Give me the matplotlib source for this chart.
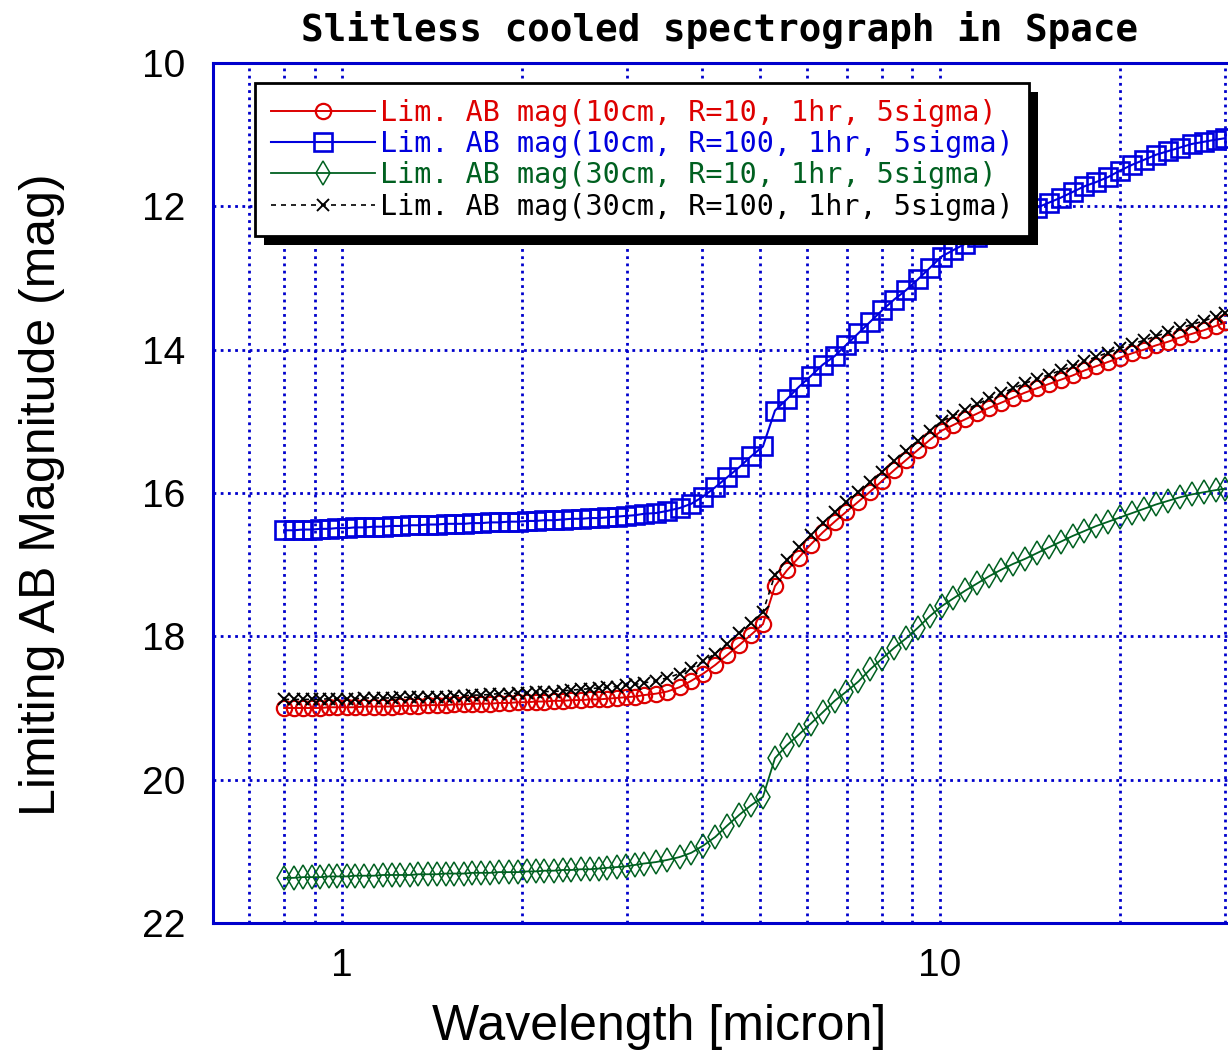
import matplotlib
matplotlib.use("Agg")
import matplotlib.pyplot as plt
from matplotlib.ticker import FixedLocator, FixedFormatter, LogLocator, NullFormatter
from matplotlib.patches import Rectangle
from matplotlib.transforms import IdentityTransform

# ---------------- data ----------------
wavelength = [
    0.80, 0.83, 0.86, 0.89, 0.92, 0.95, 0.98, 1.02, 1.05, 1.09, 1.13, 1.17, 1.21, 1.25,
    1.30, 1.34, 1.39, 1.44, 1.49, 1.54, 1.60, 1.65, 1.71, 1.77, 1.83, 1.90, 1.97, 2.04,
    2.11, 2.18, 2.26, 2.34, 2.42, 2.51, 2.60, 2.69, 2.78, 2.88, 2.98, 3.09, 3.20,
    3.35, 3.50, 3.67, 3.84, 4.02, 4.21, 4.41, 4.62, 4.83, 5.06, 5.30, 5.55, 5.81, 6.08,
    6.37, 6.67, 6.98, 7.31, 7.65, 8.01, 8.39, 8.78, 9.19, 9.62, 10.07, 10.54, 11.04,
    11.56, 12.10, 12.67, 13.26, 13.88, 14.53, 15.21, 15.93, 16.68, 17.46, 18.28, 19.14,
    20.04, 20.98, 21.97, 23.00, 24.08, 25.21, 26.39, 27.63, 28.93, 30.00]

mag_10cm_R10 = [
    19.00, 19.00, 19.00, 19.00, 19.00, 18.99, 18.99, 18.99, 18.99, 18.98, 18.98, 18.98, 18.98, 18.97,
    18.97, 18.97, 18.96, 18.96, 18.96, 18.95, 18.95, 18.94, 18.94, 18.94, 18.93, 18.93, 18.92, 18.92,
    18.91, 18.91, 18.90, 18.90, 18.89, 18.89, 18.88, 18.88, 18.87, 18.86, 18.85, 18.84, 18.82,
    18.80, 18.77, 18.71, 18.62, 18.52, 18.40, 18.26, 18.12, 17.98, 17.83, 17.30, 17.08, 16.90, 16.72,
    16.55, 16.40, 16.26, 16.12, 15.98, 15.83, 15.68, 15.54, 15.40, 15.26, 15.13, 15.05, 14.97,
    14.89, 14.81, 14.74, 14.67, 14.60, 14.54, 14.48, 14.42, 14.36, 14.29, 14.23, 14.17,
    14.11, 14.05, 14.00, 13.94, 13.89, 13.83, 13.78, 13.73, 13.67, 13.62]

mag_10cm_R100 = [
    16.52, 16.52, 16.51, 16.51, 16.50, 16.50, 16.49, 16.49, 16.48, 16.48, 16.47, 16.47, 16.46, 16.46,
    16.45, 16.45, 16.44, 16.44, 16.43, 16.43, 16.43, 16.42, 16.42, 16.41, 16.41, 16.40, 16.40, 16.39,
    16.39, 16.38, 16.38, 16.37, 16.36, 16.36, 16.35, 16.35, 16.34, 16.33, 16.32, 16.31, 16.29,
    16.28, 16.25, 16.21, 16.15, 16.05, 15.92, 15.78, 15.64, 15.49, 15.35, 14.85, 14.69, 14.52, 14.37,
    14.21, 14.09, 13.93, 13.77, 13.61, 13.45, 13.30, 13.17, 13.02, 12.86, 12.70, 12.61, 12.52,
    12.43, 12.35, 12.26, 12.18, 12.10, 12.02, 11.95, 11.88, 11.80, 11.72, 11.66, 11.59,
    11.50, 11.42, 11.35, 11.28, 11.23, 11.18, 11.13, 11.10, 11.07, 11.05]

mag_30cm_R10 = [
    21.37, 21.37, 21.36, 21.36, 21.36, 21.35, 21.35, 21.35, 21.34, 21.34, 21.34, 21.33, 21.33, 21.33,
    21.33, 21.32, 21.32, 21.32, 21.31, 21.31, 21.31, 21.30, 21.30, 21.30, 21.29, 21.29, 21.29, 21.28,
    21.28, 21.27, 21.27, 21.26, 21.26, 21.25, 21.25, 21.24, 21.23, 21.22, 21.21, 21.19, 21.17,
    21.15, 21.12, 21.08, 21.02, 20.92, 20.80, 20.64, 20.49, 20.36, 20.24, 19.70, 19.52, 19.37, 19.22,
    19.06, 18.90, 18.77, 18.63, 18.46, 18.31, 18.16, 18.03, 17.88, 17.72, 17.58, 17.47, 17.36,
    17.26, 17.16, 17.07, 16.99, 16.92, 16.84, 16.76, 16.68, 16.60, 16.53, 16.46, 16.40,
    16.34, 16.28, 16.22, 16.16, 16.11, 16.06, 16.02, 15.99, 15.96, 15.94]

mag_30cm_R100 = [
    18.88, 18.88, 18.88, 18.88, 18.88, 18.87, 18.87, 18.87, 18.87, 18.86, 18.86, 18.86, 18.86, 18.85,
    18.85, 18.85, 18.84, 18.84, 18.84, 18.83, 18.83, 18.82, 18.82, 18.81, 18.80, 18.80, 18.79, 18.79,
    18.78, 18.77, 18.77, 18.76, 18.75, 18.74, 18.73, 18.72, 18.71, 18.70, 18.68, 18.67, 18.65,
    18.62, 18.58, 18.52, 18.44, 18.35, 18.24, 18.10, 17.96, 17.82, 17.66, 17.14, 16.93, 16.76, 16.59,
    16.42, 16.27, 16.13, 15.99, 15.85, 15.70, 15.55, 15.41, 15.27, 15.13, 15.00, 14.92, 14.84,
    14.76, 14.68, 14.61, 14.54, 14.47, 14.41, 14.35, 14.29, 14.23, 14.16, 14.10, 14.04,
    13.98, 13.92, 13.87, 13.81, 13.76, 13.70, 13.65, 13.60, 13.54, 13.49]

labels = [
    "Lim. AB mag(10cm, R=10, 1hr, 5sigma)",
    "Lim. AB mag(10cm, R=100, 1hr, 5sigma)",
    "Lim. AB mag(30cm, R=10, 1hr, 5sigma)",
    "Lim. AB mag(30cm, R=100, 1hr, 5sigma)",
]
y_ticks = [10, 12, 14, 16, 18, 20, 22]
x_ticks = [1, 10]
x_ticklabels = ["1", "10"]

title = "Slitless cooled spectrograph in Space"
xlabel = "Wavelength [micron]"
ylabel = "Limiting AB Magnitude (mag)"

# ---------------- style ----------------
RED = "#dd0000"
BLUE = "#0000dd"
GREEN = "#006020"
AXBLUE = "#0000cc"

W, H = 1228, 1054
fig = plt.figure(figsize=(W / 100, H / 100), dpi=100)
ax = fig.add_axes([213 / W, 1 - 923 / H, (W - 213) / W, (923 - 63) / H])

ax.plot(wavelength, mag_10cm_R10, color=RED, lw=1.4, marker="o", ms=11,
        mfc="none", mec=RED, mew=1.6, label=labels[0], zorder=3)
ax.plot(wavelength, mag_10cm_R100, color=BLUE, lw=1.5, marker="s", ms=13,
        mfc="none", mec=BLUE, mew=1.9, label=labels[1], zorder=3)
ax.plot(wavelength, mag_30cm_R10, color=GREEN, lw=1.3, marker="d", ms=12,
        mfc="none", mec=GREEN, mew=1.1, label=labels[2], zorder=3)
ax.plot(wavelength, mag_30cm_R100, color="black", lw=1.2, ls=(0, (3, 3)), marker="x",
        ms=8, mec="black", mew=1.4, label=labels[3], zorder=3)

ax.set_xscale("log")
ax.set_xlim(0.6083, 30.35)
ax.set_ylim(22, 10)

ax.xaxis.set_major_locator(FixedLocator(x_ticks))
ax.xaxis.set_major_formatter(FixedFormatter(x_ticklabels))
ax.xaxis.set_minor_locator(LogLocator(base=10, subs=[2, 3, 4, 5, 6, 7, 8, 9]))
ax.xaxis.set_minor_formatter(NullFormatter())
ax.yaxis.set_major_locator(FixedLocator(y_ticks))
ax.set_yticklabels([str(v) for v in y_ticks])

for lab in ax.get_xticklabels() + ax.get_yticklabels():
    lab.set_fontfamily("Liberation Sans")
    lab.set_fontsize(28)
ax.tick_params(axis="both", which="both", length=0)
ax.tick_params(axis="y", pad=20)
ax.tick_params(axis="x", pad=18)

grid_kw = dict(color=AXBLUE, lw=2.0, ls=(0, (1, 1.6)))
ax.grid(True, which="major", axis="both", **grid_kw)
ax.grid(True, which="minor", axis="x", **grid_kw)
ax.set_axisbelow(True)

for side in ["left", "top", "bottom"]:
    ax.spines[side].set_color(AXBLUE)
    ax.spines[side].set_linewidth(2.2)
ax.spines["right"].set_visible(False)

fig.text(720 / W, 1 - 30 / H, title, ha="center", va="center",
         family="DejaVu Sans Mono", weight="bold", fontsize=27)
fig.text(659 / W, 1 - 1027 / H, xlabel, ha="center", va="center",
         family="Liberation Sans", fontsize=36)
fig.text(42 / W, 1 - 495 / H, ylabel, ha="center", va="center", rotation=90,
         family="Liberation Sans", fontsize=36)

leg = ax.legend(loc="upper left", bbox_to_anchor=(255 / W, 1 - 83 / H),
                bbox_transform=fig.transFigure, borderaxespad=0,
                prop=dict(family="DejaVu Sans Mono", size=20.4),
                labelcolor="linecolor", handlelength=3.7, handletextpad=0.15,
                labelspacing=0.12, borderpad=0.55, fancybox=False,
                framealpha=1, edgecolor="black", facecolor="white")
leg.get_frame().set_linewidth(2)

fig.canvas.draw()
bb = leg.get_window_extent()
shadow = Rectangle((bb.x0 + 9, bb.y0 - 9), bb.width, bb.height,
                   transform=IdentityTransform(), facecolor="black",
                   edgecolor="none", zorder=4.9, clip_on=False)
ax.add_artist(shadow)

fig.savefig("out.png", dpi=100)
